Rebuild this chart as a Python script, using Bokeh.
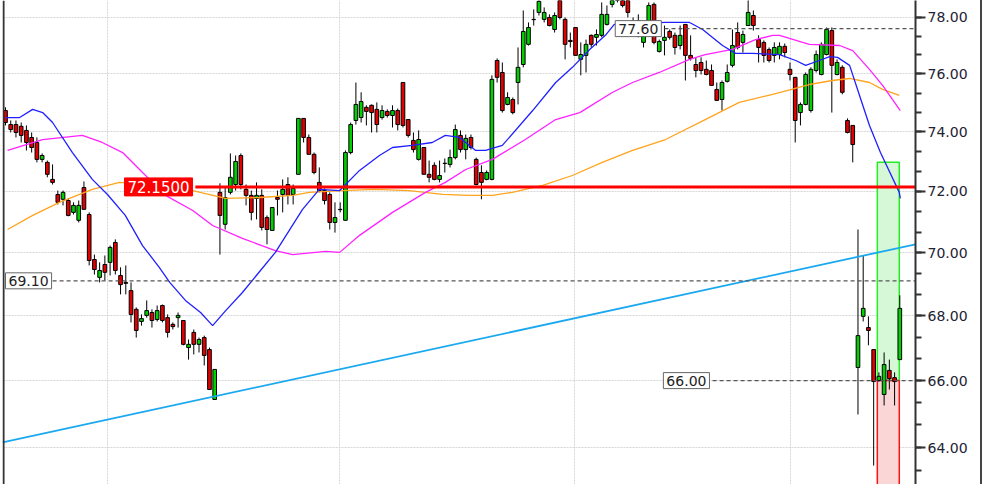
from bokeh.plotting import figure
from bokeh.models import Range1d, FixedTicker, PrintfTickFormatter, Span, Label, ColumnDataSource
from bokeh.embed import file_html
from bokeh.resources import INLINE

# ---------------- data ----------------
opens = [
    74.73, 74.25, 74.25, 74.19, 74.05, 73.81, 73.64, 73.07, 72.97, 72.40,
    71.90, 71.74, 71.70, 71.31, 71.05, 72.13, 71.24, 69.78, 69.21, 69.62,
    69.69, 70.33, 69.27, 69.05, 68.79, 68.20, 67.82, 68.01, 68.10, 67.88,
    68.32, 67.94, 67.73, 67.94, 67.85, 67.01, 67.48, 67.11, 67.32, 66.95,
    65.43, 71.97, 70.92, 71.97, 72.23, 73.20, 72.07, 71.87, 71.77, 71.87,
    71.14, 70.72, 71.80, 71.90, 72.23, 71.90, 72.57, 74.46, 73.81, 73.24,
    72.30, 72.03, 71.90, 70.98, 71.41, 71.05, 73.30, 74.39, 74.49, 74.84,
    74.91, 74.77, 74.49, 74.70, 74.56, 74.73, 75.70, 74.42, 73.71, 73.07,
    73.47, 72.57, 72.87, 72.40, 72.93, 72.90, 73.13, 73.88, 73.40, 73.81,
    73.07, 72.63, 72.40, 72.40, 76.47, 76.05, 74.94, 75.11, 75.70, 76.33,
    77.04, 77.93, 78.18, 77.93, 78.00, 77.57, 78.61, 77.93, 77.18, 77.64,
    76.51, 76.65, 77.36, 77.29, 77.36, 77.75, 78.47, 78.68, 78.90, 78.61,
    77.82, 77.89, 77.11, 77.71, 78.47, 76.79, 77.18, 77.50, 77.36, 77.00,
    77.75, 76.65, 76.33, 76.40, 76.16, 76.12, 75.46, 75.11, 75.74, 76.30,
    77.46, 77.11, 77.71, 78.07, 77.21, 77.11, 76.86, 76.65, 76.68, 76.97,
    76.16, 75.88, 74.66, 74.94, 74.73, 76.12, 75.98, 76.68, 77.53, 75.98,
    76.23, 74.39, 74.22, 66.40, 67.98, 67.63, 66.95, 66.00, 65.58, 66.31,
    66.09, 66.64,
]
highs = [
    74.84, 74.39, 74.39, 74.32, 74.22, 73.98, 73.81, 73.27, 73.03, 72.90,
    72.03, 72.03, 71.77, 71.64, 71.70, 72.33, 71.31, 69.94, 69.69, 69.91,
    70.23, 70.43, 69.53, 69.59, 69.05, 68.26, 68.04, 68.48, 68.20, 68.32,
    68.35, 68.04, 67.79, 68.10, 67.85, 67.26, 67.57, 67.32, 67.38, 67.01,
    66.34, 72.27, 72.13, 73.27, 73.20, 73.27, 72.23, 72.03, 72.30, 72.07,
    71.21, 71.47, 72.03, 72.40, 72.47, 72.23, 74.46, 74.46, 73.91, 73.30,
    72.80, 72.10, 71.97, 71.64, 71.64, 73.37, 74.32, 75.70, 75.36, 74.91,
    74.94, 75.01, 74.91, 74.77, 74.91, 74.80, 75.70, 74.42, 73.98, 74.05,
    73.47, 73.03, 72.97, 73.03, 73.10, 73.40, 74.25, 74.05, 73.91, 73.91,
    73.13, 72.87, 72.70, 75.95, 76.54, 76.40, 75.36, 75.18, 76.93, 78.25,
    77.82, 78.29, 78.72, 78.36, 78.11, 78.18, 78.72, 78.00, 77.46, 77.64,
    77.11, 77.21, 77.39, 77.57, 78.54, 78.43, 78.90, 78.90, 78.90, 78.72,
    78.00, 78.11, 77.53, 78.54, 78.54, 77.21, 77.71, 77.57, 77.46, 77.71,
    77.75, 77.36, 76.58, 76.58, 76.47, 76.33, 75.70, 75.77, 76.33, 77.57,
    77.82, 77.53, 78.65, 78.25, 77.36, 77.18, 76.93, 77.11, 77.11, 77.07,
    76.40, 75.88, 75.01, 76.05, 76.23, 76.82, 77.11, 77.64, 77.64, 76.51,
    76.30, 74.46, 74.22, 70.75, 69.91, 67.98, 66.95, 66.25, 66.86, 66.64,
    66.25, 68.64,
]
lows = [
    74.22, 73.98, 73.81, 73.64, 73.37, 73.30, 72.97, 72.97, 72.47, 72.23,
    71.57, 71.54, 71.18, 71.24, 70.98, 71.41, 69.59, 69.30, 69.05, 69.11,
    69.27, 69.30, 68.67, 68.67, 67.79, 67.32, 67.69, 67.94, 67.63, 67.82,
    67.79, 67.32, 67.57, 67.63, 67.08, 66.64, 66.80, 66.86, 66.46, 65.73,
    65.43, 69.94, 70.75, 71.90, 72.03, 72.07, 71.54, 71.05, 71.08, 70.72,
    70.27, 70.72, 71.21, 71.31, 71.57, 71.57, 72.57, 73.64, 73.24, 72.57,
    71.97, 71.57, 70.75, 70.65, 71.31, 71.05, 73.24, 74.25, 74.32, 74.22,
    73.98, 73.98, 74.42, 74.49, 74.15, 74.05, 74.15, 73.81, 73.30, 73.03,
    72.57, 72.30, 72.37, 72.30, 72.63, 72.80, 73.07, 73.30, 73.07, 73.40,
    72.20, 71.74, 72.37, 72.37, 75.70, 74.66, 74.91, 74.60, 74.94, 76.23,
    77.00, 77.71, 78.07, 77.82, 77.68, 77.46, 77.93, 76.51, 76.93, 76.65,
    75.95, 76.05, 76.93, 77.00, 77.29, 77.71, 78.36, 78.54, 78.36, 78.00,
    77.46, 77.29, 76.93, 77.64, 77.04, 76.75, 76.65, 77.21, 76.68, 76.86,
    75.77, 76.47, 75.88, 75.98, 75.95, 75.60, 75.08, 74.73, 75.70, 76.23,
    76.86, 76.75, 77.71, 77.53, 76.40, 76.40, 76.40, 76.40, 76.51, 76.58,
    75.77, 73.64, 74.22, 74.91, 74.66, 76.05, 75.95, 76.65, 74.66, 75.95,
    75.29, 73.95, 72.97, 64.98, 67.82, 67.08, 63.47, 65.97, 65.25, 65.73,
    65.25, 66.64,
]
closes = [
    74.32, 74.08, 73.98, 73.88, 73.64, 73.47, 73.07, 73.20, 72.57, 72.30,
    71.64, 71.97, 71.21, 71.54, 71.54, 71.41, 69.75, 69.46, 69.43, 69.37,
    70.17, 69.43, 68.98, 69.02, 68.04, 67.54, 67.91, 68.16, 67.85, 68.16,
    67.85, 67.48, 67.66, 68.01, 67.11, 67.11, 67.11, 67.26, 66.77, 65.73,
    66.34, 71.21, 71.80, 72.47, 73.00, 72.23, 71.87, 71.31, 71.87, 70.82,
    70.75, 71.47, 71.74, 72.07, 71.87, 72.10, 74.46, 73.81, 73.24, 72.63,
    72.03, 71.70, 70.98, 71.14, 71.40, 73.30, 74.25, 74.94, 75.04, 74.70,
    74.66, 74.25, 74.73, 74.56, 74.73, 74.25, 74.22, 73.88, 73.40, 73.74,
    72.57, 72.47, 72.40, 72.53, 72.94, 73.13, 74.08, 73.40, 73.78, 73.47,
    72.23, 72.30, 72.63, 75.81, 75.88, 74.73, 75.18, 74.66, 76.23, 77.50,
    77.64, 77.92, 78.58, 78.18, 77.71, 78.07, 78.00, 77.04, 77.14, 76.65,
    76.68, 77.04, 77.04, 77.39, 78.11, 78.11, 78.83, 78.79, 78.43, 78.18,
    77.64, 77.53, 77.39, 78.43, 77.11, 77.14, 77.29, 77.29, 76.93, 77.36,
    76.65, 76.54, 76.12, 76.12, 75.98, 75.60, 75.08, 75.70, 76.05, 77.00,
    76.93, 77.39, 78.18, 77.71, 76.93, 76.65, 76.47, 76.93, 76.97, 76.75,
    75.98, 74.39, 74.94, 75.98, 76.16, 76.68, 77.04, 77.57, 76.30, 76.40,
    75.36, 73.98, 73.57, 67.38, 68.23, 67.54, 65.97, 66.13, 66.49, 66.06,
    65.97, 68.23,
]

# moving averages: (bar index, value)
ma_fast_x = [0, 2.7, 5.2, 7.1, 9.0, 12.8, 16.6, 19.5, 22.9, 26.2, 29.4, 31.4, 34.4, 37.3,
             39.6, 42.1, 45.3, 51.6, 56.8, 60.0, 63.9, 67.7, 71.5, 74.0, 77.8, 81.6, 84.1,
             86.8, 89.9, 91.8, 95.0, 100.8, 105.2, 108.4, 111.7, 114.7, 116.4, 126.2, 130.8,
             133.3, 137.1, 139.6, 142.8, 148.0, 151.1, 153.0, 155.6, 157.6, 159.1, 161.4,
             163.3, 165.2, 167.3, 170.9, 171.1]
ma_fast_y = [74.49, 74.49, 74.77, 74.66, 74.32, 73.30, 72.40, 71.90, 71.21, 70.23, 69.53,
             69.05, 68.48, 68.10, 67.69, 68.16, 68.73, 70.01, 71.41, 72.07, 72.03, 72.70,
             73.20, 73.47, 73.54, 73.64, 73.88, 73.81, 73.37, 73.37, 73.54, 74.73, 75.70,
             76.23, 76.86, 77.36, 77.75, 77.82, 77.82, 77.57, 77.00, 76.72, 76.72, 76.68,
             76.47, 76.30, 76.47, 76.61, 76.58, 76.30, 75.25, 74.22, 73.30, 71.97, 71.77]

ma_mid_x = [0.4, 7.1, 14.7, 18.5, 22.4, 26.2, 30.6, 35.8, 39.6, 45.3, 51.6, 54.9, 61.2,
            63.9, 67.7, 74.0, 80.3, 84.1, 88.0, 93.1, 99.4, 105.2, 109.8, 116.1, 119.9,
            125.0, 130.8, 133.8, 139.0, 143.4, 146.7, 148.0, 153.7, 159.5, 162.0, 165.2,
            167.7, 171.1]
ma_mid_y = [73.37, 73.74, 73.88, 73.64, 73.30, 72.63, 71.87, 71.37, 70.88, 70.46, 70.07,
            69.94, 70.04, 70.01, 70.56, 71.31, 71.97, 72.30, 72.73, 73.07, 73.74, 74.42,
            74.66, 75.36, 75.70, 76.05, 76.51, 76.68, 76.86, 77.21, 77.36, 77.36, 77.04,
            77.00, 76.82, 76.16, 75.60, 74.73]

ma_slow_x = [0.4, 5.2, 10.3, 16.6, 21.8, 29.4, 35.8, 42.1, 48.6, 54.9, 58.1, 64.4, 70.7,
             77.2, 83.6, 88.7, 93.1, 96.9, 102.7, 108.4, 114.1, 119.9, 126.2, 133.8, 140.3,
             146.7, 153.7, 158.1, 161.4, 165.2, 167.7, 170.9]
ma_slow_y = [70.75, 71.21, 71.64, 72.07, 72.30, 72.20, 72.03, 71.77, 71.80, 71.87, 71.97,
             72.03, 72.07, 72.03, 71.90, 71.87, 71.87, 71.97, 72.20, 72.53, 72.97, 73.37,
             73.74, 74.42, 75.01, 75.29, 75.63, 75.77, 75.84, 75.70, 75.46, 75.25]

trend_x = [-0.57, 174.0]
trend_y = [64.15, 70.27]

level_main = 72.15
levels_dashed = [69.10, 77.60, 66.00]
level_labels = ["69.10", "77.60", "66.00"]

price_ticks = [64, 66, 68, 70, 72, 74, 76, 78]
month_breaks = [19.5, 63.9, 108.8, 150.1]

target_top, entry_level, stop_bottom = 72.97, 66.00, 60.0

# ---------------- layout ----------------
X0, X1 = -0.574, 174.0
BOX_L, BOX_R = 166.7, 170.9
GREEN, RED = "#00d000", "#e00000"

p = figure(width=982, height=484, output_backend="svg", toolbar_location=None,
           x_range=Range1d(X0, X1), y_range=Range1d(62.92, 78.61),
           y_axis_type="log", x_axis_location=None, y_axis_location="right",
           min_border_left=2, min_border_right=67, min_border_top=0, min_border_bottom=0)
p.outline_line_color = None
p.background_fill_color = "white"
p.border_fill_color = "white"
p.styles = {"border-right": "2px solid #444"}

minor = [round(62 + k * 2.0 / 3.0, 4) for k in range(26)]
p.yaxis.ticker = FixedTicker(ticks=price_ticks, minor_ticks=minor)
p.yaxis.formatter = PrintfTickFormatter(format="%.2f")
p.yaxis.axis_line_color = "#333333"
p.yaxis.axis_line_width = 2
p.yaxis.major_tick_out = 10
p.yaxis.major_tick_in = 0
p.yaxis.minor_tick_out = 6
p.yaxis.minor_tick_in = 0
p.yaxis.major_tick_line_width = 2
p.yaxis.minor_tick_line_width = 2
p.yaxis.major_tick_line_color = "#333333"
p.yaxis.minor_tick_line_color = "#333333"
p.yaxis.major_label_standoff = 2
p.yaxis.major_label_text_font = "DejaVu Sans"
p.yaxis.major_label_text_font_size = "14px"
p.yaxis.major_label_text_color = "#222233"

p.ygrid.ticker = FixedTicker(ticks=price_ticks)
p.ygrid.grid_line_color = "#d6d6d6"
p.ygrid.grid_line_dash = "2 1"
p.xgrid.ticker = FixedTicker(ticks=month_breaks)
p.xgrid.grid_line_color = "#d6d6d6"
p.xgrid.grid_line_dash = "2 1"

# left frame line
p.add_layout(Span(location=X0 + 0.2, dimension="height", line_color="#333333", line_width=2))

# target / stop boxes
p.quad(left=[BOX_L], right=[BOX_R], top=[target_top], bottom=[entry_level],
       fill_color="#d6f8d6", line_color="#22ee22", line_width=1.5)
p.quad(left=[BOX_L], right=[BOX_R], top=[entry_level], bottom=[stop_bottom],
       fill_color="#fad6d6", line_color="#ff1111", line_width=1.5)

# candles
n = len(opens)
xs = list(range(n))
src = ColumnDataSource(dict(
    x=xs, h=highs, l=lows,
    top=[max(o, c) for o, c in zip(opens, closes)],
    bottom=[min(o, c) for o, c in zip(opens, closes)],
    color=[GREEN if c >= o else RED for o, c in zip(opens, closes)],
))
p.segment(x0="x", y0="h", x1="x", y1="l", source=src, line_color="black", line_width=1)
p.vbar(x="x", width=0.7, top="top", bottom="bottom", source=src,
       fill_color="color", line_color="black", line_width=1)

# trend line and moving averages
p.line(trend_x, trend_y, line_color="#1aa8f0", line_width=1.8)
p.line(ma_slow_x, ma_slow_y, line_color="#ffa41c", line_width=1.3)
p.line(ma_mid_x, ma_mid_y, line_color="#ff22ff", line_width=1.3)
p.line(ma_fast_x, ma_fast_y, line_color="#2020ff", line_width=1.3)

# horizontal levels
dash_start = [9.0, 126.0, 135.2]
label_anchor = [0.0, 125.4, 134.6]
label_align = ["left", "right", "right"]
for lv, xs0 in zip(levels_dashed, dash_start):
    p.segment(x0=[xs0], y0=[lv], x1=[X1], y1=[lv], line_color="#555555",
              line_width=1.2, line_dash="4 3")
p.segment(x0=[36.3], y0=[level_main], x1=[X1], y1=[level_main],
          line_color="#ff0000", line_width=3)

for lv, txt, ax, al in zip(levels_dashed, level_labels, label_anchor, label_align):
    p.add_layout(Label(x=ax, y=lv, text=txt, text_align=al, text_baseline="middle",
                       text_font="DejaVu Sans", text_font_size="14px", text_color="#222222",
                       background_fill_color="white", border_line_color="#666666",
                       border_line_width=1, padding=3))
p.add_layout(Label(x=35.76, y=level_main, text="72.1500", text_align="right",
                   text_baseline="middle", text_font="DejaVu Sans", text_font_size="15px",
                   text_color="white", background_fill_color="#ff0000",
                   border_line_color="#ff0000", padding=3))

open("out.html", "w").write(file_html(p, INLINE))
